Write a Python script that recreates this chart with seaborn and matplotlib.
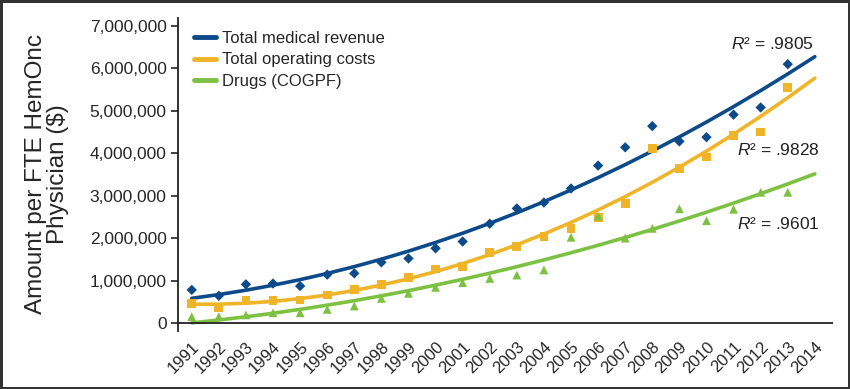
import numpy as np
import pandas as pd
import matplotlib.pyplot as plt
import seaborn as sns

# data (1991-2013), trend lines run to 2014
years = list(range(1991, 2014))
fit_years = list(range(1991, 2015))
revenue = [0.78, 0.64, 0.91, 0.93, 0.87, 1.14, 1.17, 1.43, 1.52, 1.76, 1.92, 2.34,
           2.70, 2.84, 3.17, 3.71, 4.14, 4.64, 4.28, 4.38, 4.91, 5.08, 6.10]
op_costs = [0.46, 0.36, 0.53, 0.53, 0.54, 0.66, 0.78, 0.91, 1.07, 1.27, 1.34, 1.67,
            1.80, 2.03, 2.23, 2.49, 2.82, 4.12, 3.65, 3.91, 4.42, 4.50, 5.55]
drugs = [0.15, 0.15, 0.19, 0.24, 0.24, 0.32, 0.40, 0.58, 0.70, 0.84, 0.95, 1.05,
         1.13, 1.25, 2.02, 2.52, 2.00, 2.23, 2.69, 2.41, 2.68, 3.08, 3.08]
series_names = ['Total medical revenue', 'Total operating costs', 'Drugs (COGPF)']
r2_labels = ['.9805', '.9828', '.9601']
colors = ['#0d4a8a', '#f0b429', '#7cc142']
markers = ['D', 's', '^']

sns.set_theme(style='white')
plt.rcParams['font.family'] = ['Liberation Sans', 'DejaVu Sans']
plt.rcParams['mathtext.fontset'] = 'custom'
plt.rcParams['mathtext.it'] = 'Liberation Sans:italic'
plt.rcParams['mathtext.rm'] = 'Liberation Sans'

fig, ax = plt.subplots(figsize=(8.5, 3.89), dpi=100)
fig.subplots_adjust(left=0.209, right=0.98, bottom=0.149, top=0.955)
fig.patch.set_edgecolor('#333333')
fig.patch.set_linewidth(2.5)

r2_pos = [(2012.45, 6.58e6), (2012.66, 4.08e6), (2012.66, 2.33e6)]
for name, vals, c, m, r2, pos in zip(series_names, [revenue, op_costs, drugs],
                                     colors, markers, r2_labels, r2_pos):
    y = np.array(vals) * 1e6
    coef = np.polyfit(years, y, 2)
    fit = pd.DataFrame({'year': fit_years, 'val': np.polyval(coef, fit_years)})
    sns.lineplot(data=fit, x='year', y='val', color=c, lw=2.6, ax=ax, label=name)
    pts = pd.DataFrame({'year': years, 'val': y})
    sns.scatterplot(data=pts, x='year', y='val', color=c, marker=m,
                    s=40 if m != 'D' else 28, edgecolor='none', ax=ax, zorder=3)
    ax.text(pos[0], pos[1], r'$R$² = ' + r2, fontsize=12.5, ha='center',
            va='center', color='#222222')

ax.axhline(0, color='#222222', lw=1.3, zorder=4)
ax.set_xlim(1990.48, 2014.67)
ax.set_ylim(-0.19e6, 7.2e6)
ax.set_xticks(fit_years)
ax.set_xticklabels([str(v) for v in fit_years], rotation=45, ha='right',
                   rotation_mode='anchor', fontsize=12)
ax.set_yticks(np.arange(0, 7.1e6, 1e6))
ax.set_yticklabels(['0'] + [f'{int(v):,}' for v in np.arange(1e6, 7.1e6, 1e6)],
                   fontsize=12.5)
ax.tick_params(axis='y', which='both', left=True, length=5, width=1.2,
               color='#222222', pad=3)
ax.tick_params(axis='x', bottom=False, pad=0)
sns.despine(ax=ax, top=True, right=True, bottom=True)
ax.spines['left'].set_color('#222222')
ax.spines['left'].set_linewidth(1.3)
ax.set_xlabel('')
ax.set_ylabel('Amount per FTE HemOnc\nPhysician ($)', fontsize=17.5,
              linespacing=1.0, labelpad=15)

leg = ax.legend(loc='upper left', bbox_to_anchor=(0.0, 1.01), frameon=False,
                fontsize=12, handlelength=1.3, handletextpad=0.35,
                labelspacing=0.38, borderaxespad=0.6)
for h in leg.get_lines():
    h.set_linewidth(3.5)

plt.savefig('out.png', dpi=100)
